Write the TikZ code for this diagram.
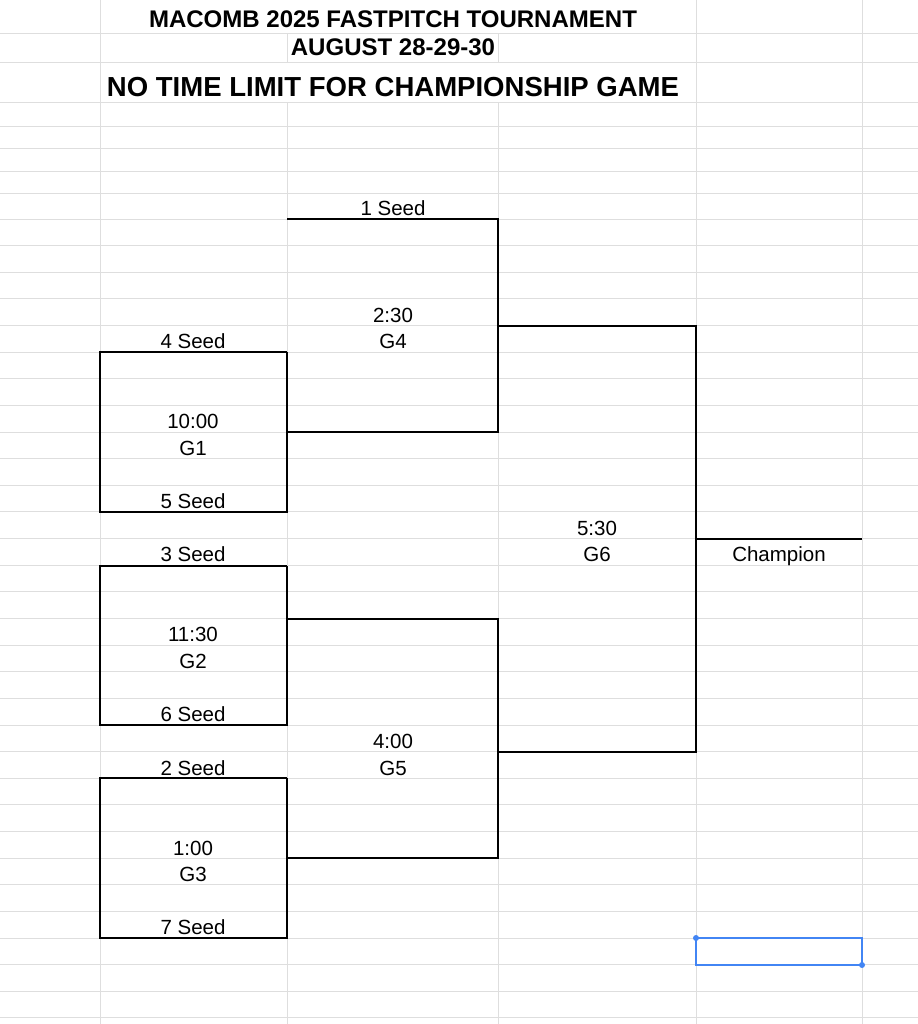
\documentclass[tikz,border=0pt]{standalone}
\usepackage{fontspec}
\setmainfont{Liberation Sans}
\usetikzlibrary{positioning}
\definecolor{selblue}{RGB}{66,133,244}

\begin{document}
\begin{tikzpicture}[x=0.03cm,y=-0.03cm,
	grid/.style={draw=black!13,line width=0.8pt},
	bracket/.style={draw=black,line width=1pt},
	cell/.style={font=\fontsize{17.5}{17.5}\selectfont,inner sep=0pt,anchor=base},
	title/.style={font=\bfseries\fontsize{20.5}{20.5}\selectfont,inner sep=0pt,anchor=base}]
	
	\useasboundingbox (0,0) rectangle (918,1024);
	
	% spreadsheet grid
	\foreach \y in {33,62,102,126,148,171,193}
		\draw[grid] (0,\y) -- (918,\y);
	\foreach \k in {0,...,30}
		\draw[grid] (0,219+\k*26.63) -- (918,219+\k*26.63);
	\foreach \x in {100,696,862}
		\draw[grid] (\x,0) -- (\x,1024);
	\foreach \x in {287,498}{
		\draw[grid] (\x,33) -- (\x,62);
		\draw[grid] (\x,102) -- (\x,1024);
	}
	
	% titles
	\node[title] (t1) at (393,27) {MACOMB 2025 FASTPITCH TOURNAMENT};
	\node[title] (t2) at (393,55) {AUGUST 28-29-30};
	\node[title,font=\bfseries\fontsize{23.5}{23.5}\selectfont] (t3) at (393,96) {NO TIME LIMIT FOR CHAMPIONSHIP GAME};
	
	% corners of the bracket
	\coordinate (s1) at (287,219);
	\coordinate (g4a) at (498,219);
	\coordinate (g1a) at (100,352);
	\coordinate (g1b) at (287,352);
	\coordinate (g1c) at (100,512);
	\coordinate (g1d) at (287,512);
	\coordinate (g1o) at (287,432);
	\coordinate (g4b) at (498,432);
	\coordinate (g2a) at (100,566);
	\coordinate (g2b) at (287,566);
	\coordinate (g2c) at (100,725);
	\coordinate (g2d) at (287,725);
	\coordinate (g2o) at (287,619);
	\coordinate (g5a) at (498,619);
	\coordinate (g3a) at (100,778);
	\coordinate (g3b) at (287,778);
	\coordinate (g3c) at (100,938);
	\coordinate (g3d) at (287,938);
	\coordinate (g3o) at (287,858);
	\coordinate (g5b) at (498,858);
	\coordinate (g4o) at (498,326);
	\coordinate (g6a) at (696,326);
	\coordinate (g5o) at (498,752);
	\coordinate (g6b) at (696,752);
	\coordinate (g6o) at (696,539);
	\coordinate (ch) at (862,539);
	
	\draw[bracket] (g1b) -- (g1a) -- (g1c) -- (g1d) -- (g1b);
	\draw[bracket] (g2b) -- (g2a) -- (g2c) -- (g2d) -- (g2b);
	\draw[bracket] (g3b) -- (g3a) -- (g3c) -- (g3d) -- (g3b);
	\draw[bracket] (s1) -- (g4a) -- (g4b) -- (g1o);
	\draw[bracket] (g2o) -- (g5a) -- (g5b) -- (g3o);
	\draw[bracket] (g4o) -- (g6a) -- (g6b) -- (g5o);
	\draw[bracket] (g6o) -- (ch);
	
	% labels
	\node[cell] (seed1) at (393,215) {1 Seed};
	\node[cell] (seed4) at (193,348) {4 Seed};
	\node[cell] (seed5) at (193,508) {5 Seed};
	\node[cell] (seed3) at (193,561) {3 Seed};
	\node[cell] (seed6) at (193,721) {6 Seed};
	\node[cell] (seed2) at (193,775) {2 Seed};
	\node[cell] (seed7) at (193,934) {7 Seed};
	\node[cell] (time1) at (193,428) {10:00};
	\node[cell] (game1) at (193,455) {G1};
	\node[cell] (time2) at (193,641) {11:30};
	\node[cell] (game2) at (193,668) {G2};
	\node[cell] (time3) at (193,855) {1:00};
	\node[cell] (game3) at (193,881) {G3};
	\node[cell] (time4) at (393,322) {2:30};
	\node[cell] (game4) at (393,348) {G4};
	\node[cell] (time5) at (393,748) {4:00};
	\node[cell] (game5) at (393,775) {G5};
	\node[cell] (time6) at (597,535) {5:30};
	\node[cell] (game6) at (597,561) {G6};
	\node[cell] (champ) at (779,561) {Champion};
	
	% selected cell
	\draw[selblue,line width=1.2pt] (696,938) rectangle (862,965);
	\fill[selblue] (696,938) circle (3) (862,965) circle (3);
\end{tikzpicture}
\end{document}
